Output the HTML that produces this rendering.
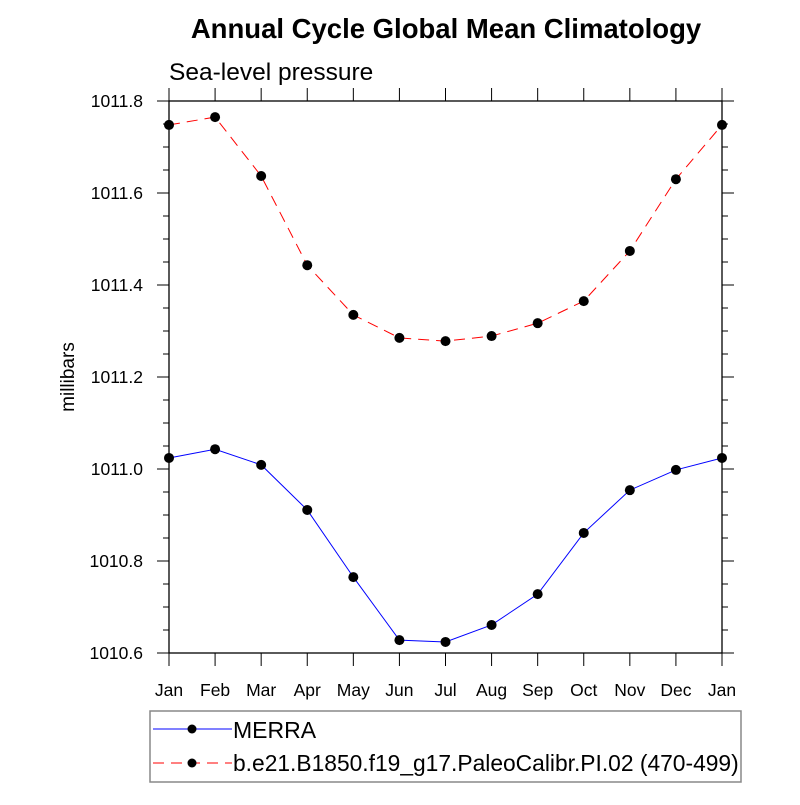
<!DOCTYPE html>
<html><head><meta charset="utf-8"><style>
body{margin:0;background:#fff}
svg{font-family:"Liberation Sans",sans-serif}
</style></head><body>
<svg id="c" width="800" height="800">
<text x="446" y="38" text-anchor="middle" font-size="27.5" font-weight="bold">Annual Cycle Global Mean Climatology</text>
<text x="169" y="80" font-size="24.5">Sea-level pressure</text>
<text transform="translate(74,377) rotate(-90)" text-anchor="middle" font-size="19">millibars</text>
<g id="axes"></g><g id="series"></g>
<rect x="150" y="711" width="591" height="71" fill="none" stroke="#888" stroke-width="1.5"/>
<g>
<line x1="153" y1="729" x2="232" y2="729" stroke="blue" stroke-width="1"/>
<circle cx="192" cy="729" r="4.5" fill="#000"/>
<text x="233" y="738" font-size="23">MERRA</text></g>
<g>
<line x1="153" y1="763" x2="232" y2="763" stroke="red" stroke-width="1" stroke-dasharray="11,7"/>
<circle cx="192" cy="763" r="4.5" fill="#000"/>
<text x="233" y="771" font-size="22.8">b.e21.B1850.f19_g17.PaleoCalibr.PI.02 (470-499)</text></g>
</svg>
<script>
const months=["Jan","Feb","Mar","Apr","May","Jun","Jul","Aug","Sep","Oct","Nov","Dec","Jan"];
const merra=[1011.024,1011.043,1011.009,1010.911,1010.765,1010.628,1010.624,1010.661,1010.728,1010.861,1010.954,1010.998,1011.024];
const model=[1011.748,1011.765,1011.637,1011.443,1011.335,1011.285,1011.278,1011.289,1011.317,1011.365,1011.474,1011.630,1011.748];
const yTicks=["1010.6","1010.8","1011.0","1011.2","1011.4","1011.6","1011.8"];
const L=169,R=722,T=101,B=653,ymin=1010.6,ymax=1011.8;
const NS="http://www.w3.org/2000/svg";
const xs=i=>L+(R-L)*i/(months.length-1);
const ys=v=>B-(v-ymin)/(ymax-ymin)*(B-T);
function mk(tag,at,par){const e=document.createElementNS(NS,tag);for(const k in at)e.setAttribute(k,at[k]);par.appendChild(e);return e;}
const ax=document.getElementById('axes');
const fr=mk('rect',{x:L,y:T,width:R-L,height:B-T,fill:'none',stroke:'#000','stroke-width':1.3},ax);


months.forEach((m,i)=>{const x=xs(i);
mk('line',{x1:x,y1:B,x2:x,y2:B+13,stroke:'#000'},ax);
mk('line',{x1:x,y1:T,x2:x,y2:T-13,stroke:'#000'},ax);
const t=mk('text',{x:x,y:B+43,'text-anchor':'middle','font-size':17.5},ax);t.textContent=m;

});
for(let v=ymin;v<=ymax+1e-9;v+=0.05){const y=ys(v);const len=Math.abs(Math.round(v*20)%4)===0?12:6;
mk('line',{x1:L,y1:y,x2:L-len,y2:y,stroke:'#000'},ax);
mk('line',{x1:R,y1:y,x2:R+len,y2:y,stroke:'#000'},ax);}
yTicks.forEach(s=>{const t=mk('text',{x:L-26,y:ys(+s)+6,'text-anchor':'end','font-size':17.5},ax);t.textContent=s;

});
const sg=document.getElementById('series');
function series(d,col,dash,name){const g=mk('g',{},sg);


mk('polyline',{points:d.map((v,i)=>xs(i)+','+ys(v)).join(' '),fill:'none',stroke:col,'stroke-width':1,'stroke-dasharray':dash},g);
d.forEach((v,i)=>{const c=mk('circle',{cx:xs(i),cy:ys(v),r:5,fill:'#000'},g);

});}
series(merra,'blue','none','merra-series');
series(model,'red','11,7','model-series');
</script>
</body></html>
